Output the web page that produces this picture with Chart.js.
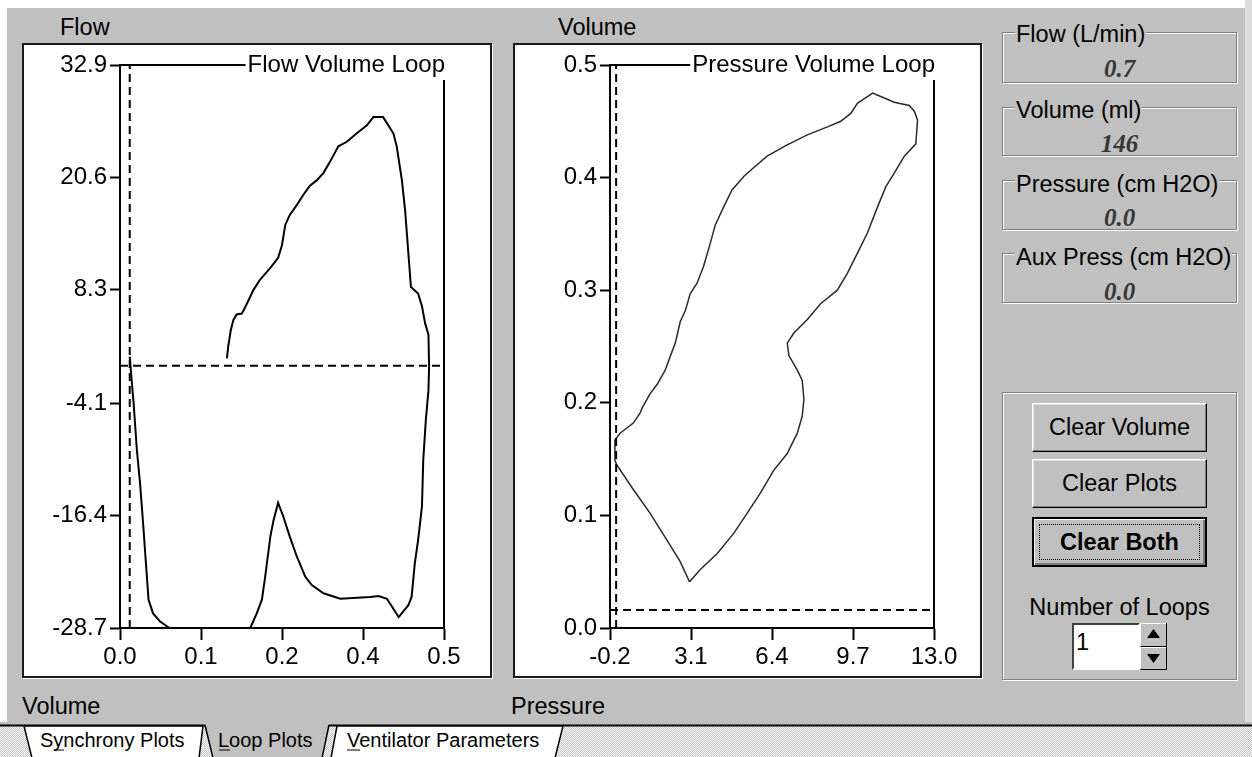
<!DOCTYPE html>
<html>
<head>
<meta charset="utf-8">
<script src="https://cdn.jsdelivr.net/npm/chart.js@4.4.1/dist/chart.umd.min.js"></script>
<style>
  body { margin:0; width:1252px; height:757px; background:#fff; position:relative; overflow:hidden;
         font-family:"Liberation Sans", Arial, sans-serif; color:#000; }
  .abs { position:absolute; }
  #win { left:7px; top:8px; width:1238px; height:717px; background:#c0c0c0; }
  #edge { left:1245px; top:0; width:7px; height:725px; background:#dcdcdc; }
  .plotbox { background:#fff; border:2px solid #1a1a1a; box-sizing:border-box; box-shadow:1px 1px 0 #fff; }
  .lbl { font-size:23.5px; line-height:24px; white-space:nowrap; }
  .group { border:1px solid #808080; box-sizing:border-box; box-shadow:inset 1px 1px 0 #fff, 1px 1px 0 #fff; }
  .glbl { background:#c0c0c0; padding:0 1px; }
  .val { font-family:"Liberation Serif", "Times New Roman", serif; font-weight:bold; font-style:italic;
         font-size:25px; line-height:24px; color:#383838; text-align:center; }
  .btn { background:#c0c0c0; box-sizing:border-box; border:1px solid; border-color:#fff #000 #000 #fff;
         box-shadow:inset -1px -1px 0 #808080, inset 1px 1px 0 #dfdfdf; font-size:23.5px;
         display:flex; align-items:center; justify-content:center; }
  .btn.def { border:2px solid #000; box-shadow:inset 1px 1px 0 #fff, inset -2px -2px 0 #808080; font-weight:bold; }
  .focus { left:5px; top:5px; right:5px; bottom:5px; border:1px dotted #000; }
  #strip { left:0; top:725px; width:1252px; height:32px;
           background:repeating-conic-gradient(#fff 0 25%, #c4c4c4 0 50%) 0 0/2px 2px; }
</style>
</head>
<body>
<div id="win" class="abs"></div>
<div id="edge" class="abs"></div>

<div class="abs lbl" style="left:60px;top:15px">Flow</div>
<div class="abs lbl" style="left:558px;top:15px">Volume</div>
<div class="abs lbl" style="left:22px;top:694px">Volume</div>
<div class="abs lbl" style="left:511px;top:694px">Pressure</div>

<div class="abs plotbox" style="left:22px;top:43px;width:470px;height:635px"></div>
<div class="abs plotbox" style="left:513px;top:43px;width:469px;height:635px"></div>
<canvas id="fvChart" class="abs" style="left:22px;top:43px" width="470" height="635"></canvas>
<canvas id="pvChart" class="abs" style="left:513px;top:43px" width="469" height="635"></canvas>

<!-- readouts -->
<div class="abs group" style="left:1002px;top:32px;width:235px;height:51px"></div>
<div class="abs lbl glbl" style="left:1015px;top:22px">Flow (L/min)</div>
<div class="abs val" style="left:1002px;top:57px;width:235px">0.7</div>

<div class="abs group" style="left:1002px;top:107px;width:235px;height:49px"></div>
<div class="abs lbl glbl" style="left:1015px;top:98px">Volume (ml)</div>
<div class="abs val" style="left:1002px;top:132px;width:235px">146</div>

<div class="abs group" style="left:1002px;top:180px;width:235px;height:50px"></div>
<div class="abs lbl glbl" style="left:1015px;top:172px">Pressure (cm H2O)</div>
<div class="abs val" style="left:1002px;top:206px;width:235px">0.0</div>

<div class="abs group" style="left:1002px;top:253px;width:235px;height:50px"></div>
<div class="abs lbl glbl" style="left:1015px;top:245px">Aux Press (cm H2O)</div>
<div class="abs val" style="left:1002px;top:280px;width:235px">0.0</div>

<!-- controls -->
<div class="abs group" style="left:1002px;top:392px;width:235px;height:288px"></div>
<div class="abs btn" style="left:1032px;top:403px;width:175px;height:49px">Clear Volume</div>
<div class="abs btn" style="left:1032px;top:459px;width:175px;height:49px">Clear Plots</div>
<div class="abs btn def" style="left:1032px;top:517px;width:175px;height:50px"><div class="abs focus"></div>Clear Both</div>
<div class="abs lbl" style="left:1002px;top:595px;width:235px;text-align:center">Number of Loops</div>
<div class="abs" style="left:1072px;top:623px;width:68px;height:47px;background:#fff;box-sizing:border-box;border:2px solid;border-color:#404040 #fff #fff #404040"></div>
<div class="abs lbl" style="left:1076px;top:630px">1</div>
<svg class="abs" style="left:1140px;top:623px" width="27" height="47">
  <rect x="0" y="0" width="27" height="47" fill="#c0c0c0"/>
  <path d="M0.5 23V0.5H26" stroke="#fff" fill="none"/>
  <path d="M0.5 46.5H26.5V0" stroke="#000" fill="none"/>
  <path d="M0.5 23.5H26.5" stroke="#000" fill="none"/>
  <path d="M0.5 45V24.5H26" stroke="#fff" fill="none"/>
  <polygon points="13.5,6 20,15 7,15" fill="#000"/>
  <polygon points="7,31 20,31 13.5,40" fill="#000"/>
</svg>

<!-- tab strip -->
<div id="strip" class="abs"></div>
<svg class="abs" style="left:0;top:722px" width="1252" height="35" font-family="Liberation Sans, Arial, sans-serif" font-size="20">
  <rect x="0" y="0" width="1252" height="3" fill="#c0c0c0"/>
  <path d="M0 3.5H205M329 3.5H1252" stroke="#000" stroke-width="2"/>
  <polygon points="24,4 203,4 199,36 32,36" fill="#fff" stroke="#000" stroke-width="1.5"/>
  <polygon points="205,2 329,2 322,36 213,36" fill="#c0c0c0"/>
  <path d="M205,3 L213,36 L322,36 L329,3" fill="none" stroke="#000" stroke-width="1.5"/>
  <polygon points="337,4 563,4 555,36 331,36" fill="#fff" stroke="#000" stroke-width="1.5"/>
  <text x="40" y="25">Synchrony Plots</text>
  <path d="M54 28H64" stroke="#000"/>
  <text x="218" y="25">Loop Plots</text>
  <path d="M219 28H230" stroke="#000"/>
  <text x="347" y="25">Ventilator Parameters</text>
  <path d="M347 28H360" stroke="#000"/>
</svg>

<script>
// flow volume loop (volume in L, flow in L/min)
const fvVolume = [0.165,0.167,0.171,0.175,0.180,0.188,0.196,0.206,0.216,0.232,0.244,0.250,0.255,0.262,0.273,0.283,
  0.293,0.304,0.314,0.324,0.337,0.350,0.365,0.381,0.391,0.406,0.414,0.422,0.427,0.435,0.440,0.445,0.449,0.460,
  0.466,0.471,0.476,0.477,0.476,0.472,0.468,0.466,0.460,0.455,0.450,0.445,0.430,0.412,0.399,0.386,0.340,0.314,
  0.296,0.286,0.273,0.262,0.252,0.244,0.237,0.232,0.224,0.219,0.211,0.201,0.180,0.140,0.100,0.076,0.062,0.051,
  0.044,0.040,0.036,0.031,0.026,0.021,0.018,0.015];
const fvFlow = [0.8,2.1,3.9,5.0,5.6,5.7,6.8,8.3,9.4,10.7,11.8,13.2,15.4,16.5,17.6,18.7,
  19.7,20.3,21.1,22.3,24.0,24.5,25.4,26.3,27.2,27.2,26.3,25.4,24.0,20.3,17.0,12.3,8.6,7.9,
  6.5,4.6,3.4,-0.1,-2.7,-5.9,-10.3,-15.4,-19.1,-21.6,-25.3,-26.2,-27.5,-25.5,-25.2,-25.3,-25.5,-24.9,
  -24.0,-23.1,-20.9,-18.7,-16.5,-15.0,-16.9,-18.7,-23.1,-25.6,-27.1,-28.7,-30.2,-31.0,-30.4,-28.7,-28.0,-27.1,
  -25.6,-21.6,-17.6,-12.9,-9.2,-4.1,-1.6,1.0];
const fvXTicks = [0, 0.125, 0.25, 0.375, 0.5];
const fvXLabels = ['0.0', '0.1', '0.2', '0.4', '0.5'];
const fvYTicks = [-28.7, -16.4, -4.1, 8.3, 20.6, 32.9];
const fvBaseFlow = 0;
const fvBaseVolume = 0.015;

// pressure volume loop (pressure in cm H2O, volume in L)
const pvPressure = [3.04,3.48,4.16,4.84,5.39,5.93,6.47,7.02,7.43,7.63,7.70,7.63,7.43,7.09,7.02,7.29,7.84,8.38,
  9.06,9.47,9.88,10.29,10.70,11.04,11.38,11.79,12.26,12.33,12.20,11.99,11.38,10.83,10.50,10.15,9.88,9.61,9.20,
  8.66,7.84,7.02,6.20,5.66,5.25,4.77,4.43,4.09,3.89,3.61,3.34,3.07,2.87,2.66,2.46,2.25,2.05,1.71,1.43,1.10,1.03,
  0.75,0.21,0.00,0.00,0.07,0.75,1.43,2.12,2.66,3.04];
const pvVolume = [0.041,0.052,0.066,0.084,0.102,0.120,0.140,0.155,0.173,0.188,0.203,0.220,0.229,0.242,0.253,0.262,
  0.274,0.288,0.300,0.315,0.333,0.351,0.374,0.392,0.404,0.419,0.430,0.451,0.459,0.464,0.467,0.472,0.475,0.470,
  0.466,0.457,0.450,0.445,0.438,0.429,0.419,0.409,0.401,0.389,0.374,0.358,0.342,0.321,0.306,0.297,0.282,0.272,
  0.253,0.241,0.229,0.216,0.208,0.195,0.191,0.182,0.173,0.167,0.149,0.145,0.123,0.102,0.078,0.059,0.041];
const pvXTicks = [-0.2, 3.1, 6.4, 9.7, 13.0];
const pvYTicks = [0.0, 0.1, 0.2, 0.3, 0.4, 0.5];
const pvBasePressure = 0.05;
const pvBaseVolume = 0.016;

const FONT = '"Liberation Sans", Arial, sans-serif';

// top border + title, and the right border that starts below the title
const loopFrame = {
  id: 'loopFrame',
  afterDraw(chart, args, opts) {
    const ctx = chart.ctx, a = chart.chartArea;
    ctx.save();
    ctx.font = '24px ' + FONT;
    ctx.fillStyle = '#000';
    ctx.textAlign = 'right';
    ctx.textBaseline = 'middle';
    ctx.fillText(opts.text, a.right + 1, a.top);
    const w = ctx.measureText(opts.text).width;
    ctx.strokeStyle = '#000';
    ctx.lineWidth = 2;
    ctx.beginPath();
    ctx.moveTo(a.left, a.top);
    ctx.lineTo(a.right - w - 1, a.top);
    ctx.moveTo(a.right, a.top + 15);
    ctx.lineTo(a.right, a.bottom);
    ctx.stroke();
    ctx.restore();
  }
};

function axis(min, max, ticks, labels, fit, tickLength) {
  return {
    type: 'linear', min: min, max: max,
    afterBuildTicks: s => { s.ticks = ticks.map(v => ({ value: v })); },
    afterFit: fit,
    grid: { drawOnChartArea: false, drawTicks: true, tickLength: tickLength, tickColor: '#000', tickWidth: 2 },
    border: { display: true, color: '#000', width: 2 },
    ticks: { color: '#000', font: { family: FONT, size: 24 }, padding: 3, autoSkip: false, maxRotation: 0,
             callback: (v, i) => labels[i] }
  };
}

function line(data, color, width, dash) {
  return { data: data, showLine: true, pointRadius: 0, borderColor: color, borderWidth: width,
           borderDash: dash || [], tension: 0 };
}

function loopChart(id, title, series, refs, xAxis, yAxis) {
  return new Chart(document.getElementById(id), {
    type: 'scatter',
    data: { datasets: refs.concat([series]) },
    options: {
      responsive: false, animation: false, devicePixelRatio: 1, events: [],
      layout: { padding: { top: 22, right: 48, left: 0, bottom: 0 } },
      scales: { x: xAxis, y: yAxis },
      plugins: { legend: { display: false }, tooltip: { enabled: false }, loopFrame: { text: title } }
    },
    plugins: [loopFrame]
  });
}

const fvMinY = fvYTicks[0], fvMaxY = fvYTicks[fvYTicks.length - 1];
loopChart('fvChart', 'Flow Volume Loop',
  line(fvVolume.map((v, i) => ({ x: v, y: fvFlow[i] })), '#000', 2),
  [line([{ x: fvBaseVolume, y: fvMinY }, { x: fvBaseVolume, y: fvMaxY }], '#000', 2, [8, 5]),
   line([{ x: fvXTicks[0], y: fvBaseFlow }, { x: fvXTicks[4], y: fvBaseFlow }], '#000', 2, [8, 5])],
  axis(fvXTicks[0], fvXTicks[4], fvXTicks, fvXLabels, s => { s.height = 50; }, 12),
  axis(fvMinY, fvMaxY, fvYTicks, fvYTicks.map(v => v.toFixed(1)), s => { s.width = 98; }, 10));

loopChart('pvChart', 'Pressure Volume Loop',
  line(pvPressure.map((p, i) => ({ x: p, y: pvVolume[i] })), '#2a2a2a', 1.5),
  [line([{ x: pvBasePressure, y: pvYTicks[0] }, { x: pvBasePressure, y: pvYTicks[5] }], '#000', 2, [8, 5]),
   line([{ x: pvXTicks[0], y: pvBaseVolume }, { x: pvXTicks[4], y: pvBaseVolume }], '#000', 2, [8, 5])],
  axis(pvXTicks[0], pvXTicks[4], pvXTicks, pvXTicks.map(v => v.toFixed(1)), s => { s.height = 50; }, 12),
  axis(pvYTicks[0], pvYTicks[5], pvYTicks, pvYTicks.map(v => v.toFixed(1)), s => { s.width = 97; }, 10));
</script>
</body>
</html>
